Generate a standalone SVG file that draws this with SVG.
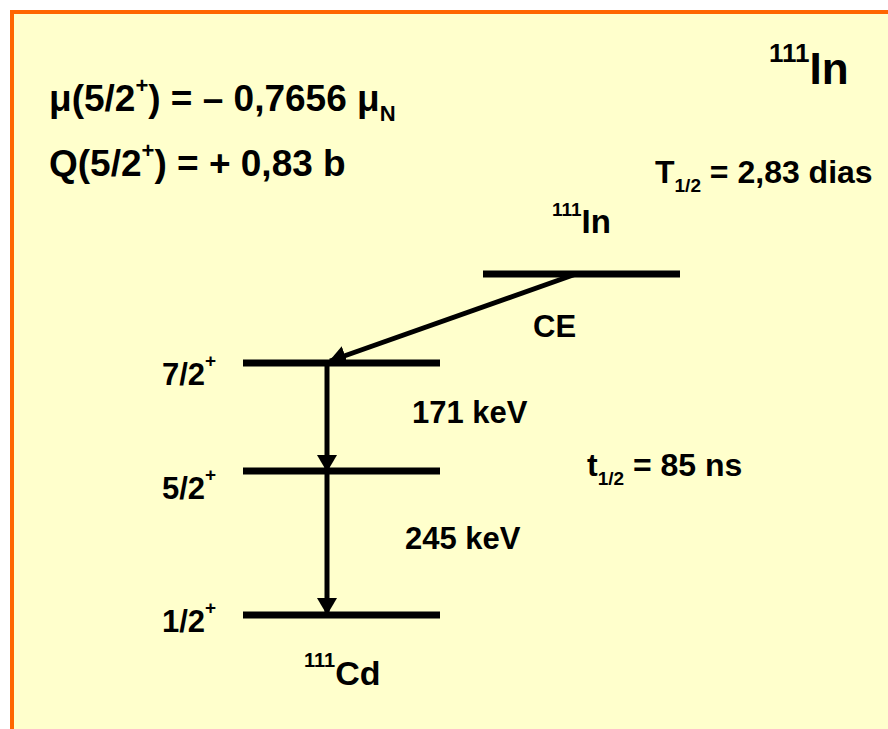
<svg xmlns="http://www.w3.org/2000/svg" width="888" height="729" viewBox="0 0 888 729">
<style>
text{font-family:"Liberation Sans",Arial,sans-serif;font-weight:bold;fill:#000}
.lvl{stroke:#000;stroke-width:7}
.arr{stroke:#000;stroke-width:5;fill:none}
</style>
<defs>
<marker id="ah" markerWidth="18" markerHeight="20" refX="16" refY="10" orient="auto" markerUnits="userSpaceOnUse">
<path d="M0,0 L17,10 L0,20 z" fill="#000"/>
</marker>
</defs>
<rect width="888" height="729" fill="#fff"/>
<rect x="12" y="12" width="890" height="730" fill="#FFFFCC" stroke="#FF6600" stroke-width="4"/>
<g id="info" font-size="37">
<text x="49" y="111">μ(5/2<tspan font-size="22" dy="-18">+</tspan><tspan dy="18">) = – 0,7656 μ</tspan><tspan font-size="22" dy="10">N</tspan></text>
<text x="49" y="176">Q(5/2<tspan font-size="22" dy="-18">+</tspan><tspan dy="18">) = + 0,83 b</tspan></text>
</g>
<g id="title">
<text x="769" y="84"><tspan font-size="26" dy="-22">111</tspan><tspan font-size="44" dy="22">In</tspan></text>
</g>
<g id="halflife-In">
<text x="655" y="183" font-size="32">T<tspan font-size="19" dy="9">1/2</tspan><tspan dy="-9"> = 2,83 dias</tspan></text>
</g>
<g id="level-In">
<text x="552" y="233"><tspan font-size="19" dy="-17">111</tspan><tspan font-size="33" dy="17">In</tspan></text>
<line class="lvl" x1="483" y1="274" x2="680" y2="274"/>
</g>
<g id="level-7-2">
<text x="162" y="385" font-size="31">7/2<tspan font-size="19" dy="-18">+</tspan></text>
<line class="lvl" x1="243" y1="363" x2="440" y2="363"/>
</g>
<g id="level-5-2">
<text x="162" y="499" font-size="31">5/2<tspan font-size="19" dy="-18">+</tspan></text>
<line class="lvl" x1="243" y1="471" x2="440" y2="471"/>
<text x="587" y="476" font-size="32">t<tspan font-size="19" dy="9">1/2</tspan><tspan dy="-9"> = 85 ns</tspan></text>
</g>
<g id="level-1-2">
<text x="162" y="632" font-size="31">1/2<tspan font-size="19" dy="-18">+</tspan></text>
<line class="lvl" x1="243" y1="615" x2="440" y2="615"/>
<text x="304" y="685"><tspan font-size="20" dy="-18">111</tspan><tspan font-size="34" dy="18">Cd</tspan></text>
</g>
<g id="connectors">
<line class="arr" x1="576" y1="274" x2="330" y2="361" marker-end="url(#ah)"/>
<line class="arr" x1="327" y1="363" x2="327" y2="471" marker-end="url(#ah)"/>
<line class="arr" x1="327" y1="471" x2="327" y2="614" marker-end="url(#ah)"/>
<text x="533" y="337" font-size="31">CE</text>
<text x="412" y="423" font-size="31">171 keV</text>
<text x="405" y="549" font-size="31">245 keV</text>
</g>
</svg>
